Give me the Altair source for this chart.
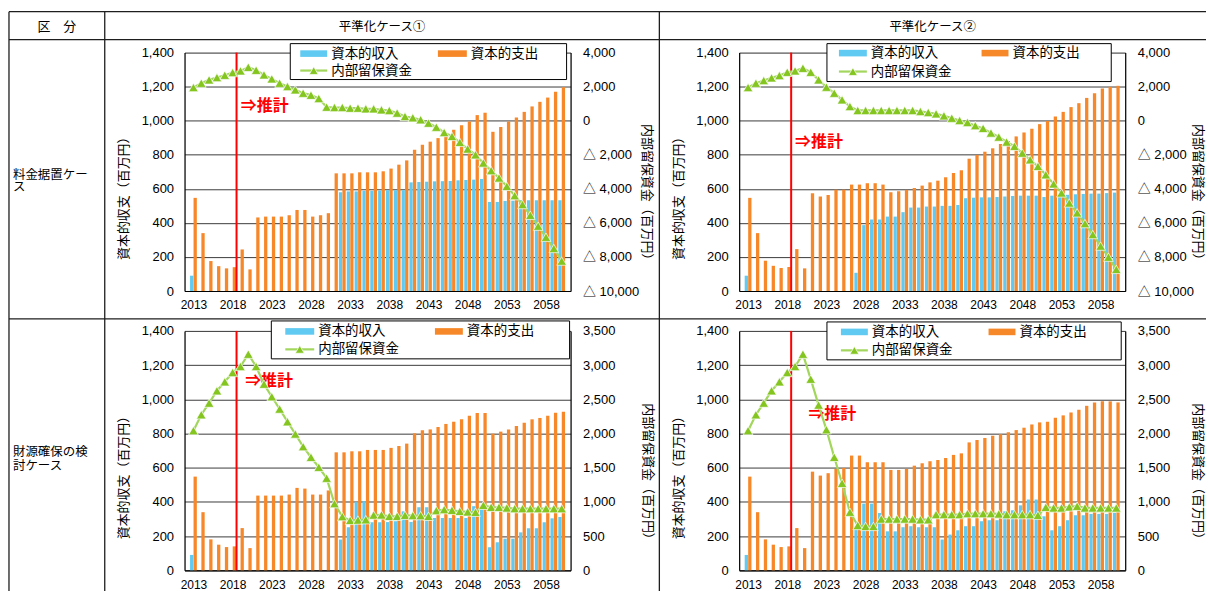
import altair as alt
import pandas as pd

YEARS = list(range(2013, 2061))
TICK_YEARS = [2013, 2018, 2023, 2028, 2033, 2038, 2043, 2048, 2053, 2058]

SERIES = ["資本的収入", "資本的支出", "内部留保資金"]
HEADERS = ["区　分", "平準化ケース①", "平準化ケース②"]
ROWS = ["料金据置ケー\nス", "財源確保の検\n討ケース"]
ESTIMATE = "⇒推計"
LEFT_TITLE = "資本的収支（百万円）"
RIGHT_TITLE = "内部留保資金（百万円）"

# --- 料金据置ケース / 平準化ケース① -------------------------------------
TL_INCOME = [90, 0, 0, 0, 0, 0, 0,
             0, 0, 0, 0, 0, 0, 0, 0, 0, 0,
             0, 0, 580, 585, 585, 588, 588, 590, 592, 592,
             592, 638, 640, 642, 644, 645, 646, 650, 652, 654,
             658, 523, 523, 529, 531, 533, 533, 533, 533, 533, 533]
TL_EXPENSE = [547, 340, 176, 146, 133, 140, 244,
              127, 432, 437, 437, 437, 445, 476, 476, 437, 445,
              457, 691, 691, 691, 697, 697, 697, 703, 719, 742,
              767, 830, 859, 877, 898, 924, 947, 974, 996, 1033,
              1047, 935, 963, 996, 1019, 1052, 1084, 1111, 1136, 1170, 1197]
TL_RESERVE = [1950, 2204, 2399, 2536, 2673, 2829, 2927,
              3141, 2966, 2692, 2458, 2204, 2009, 1814, 1618, 1501, 1306,
              798, 778, 778, 740, 740, 700, 700, 641, 600, 450,
              250, 176, 60, -140, -380, -690, -920, -1270, -1660, -2000,
              -2480, -2930, -3360, -3850, -4400, -4920, -5550, -6190, -6840, -7500, -8240]

# --- 料金据置ケース / 平準化ケース② -------------------------------------
TR_INCOME = [90, 0, 0, 0, 0, 0, 0,
             0, 0, 0, 0, 0, 0, 0, 107, 387, 420,
             420, 437, 437, 463, 490, 490, 496, 496, 500, 500,
             505, 545, 548, 550, 550, 552, 555, 558, 560, 560,
             560, 552, 560, 562, 565, 568, 570, 572, 572, 575, 578]
TR_EXPENSE = [547, 340, 178, 148, 135, 141, 246,
              133, 574, 555, 564, 595, 595, 625, 625, 633, 633,
              625, 580, 586, 594, 605, 619, 638, 648, 668, 693,
              709, 777, 799, 818, 838, 863, 881, 908, 931, 953,
              980, 998, 1025, 1052, 1080, 1103, 1134, 1162, 1189, 1199, 1205]
TR_RESERVE = [1950, 2204, 2360, 2517, 2653, 2848, 2927,
              3083, 2848, 2399, 1970, 1618, 1228, 837, 603, 603, 603,
              603, 603, 603, 603, 603, 544, 485, 407, 290, 150,
              15, -100, -290, -450, -720, -960, -1250, -1500, -1900, -2290,
              -2680, -3170, -3710, -4240, -4830, -5410, -6040, -6680, -7360, -8010, -8730]

# --- 財源確保の検討ケース / 平準化ケース① -------------------------------
BL_INCOME = [90, 0, 0, 0, 0, 0, 0,
             0, 0, 0, 0, 0, 0, 0, 0, 0, 0,
             0, 0, 180, 252, 398, 404, 281, 281, 282, 287,
             345, 283, 369, 369, 306, 306, 306, 306, 306, 375,
             365, 135, 164, 185, 185, 222, 246, 246, 281, 304, 312]
BL_EXPENSE = [548, 340, 181, 150, 136, 140, 247,
              130, 437, 437, 437, 437, 443, 482, 478, 443, 443,
              467, 690, 690, 696, 696, 704, 704, 704, 716, 727,
              741, 801, 819, 824, 838, 856, 869, 883, 904, 920,
              920, 799, 811, 824, 844, 863, 883, 891, 904, 922, 927]
BL_RESERVE = [2042, 2275, 2445, 2625, 2756, 2892, 2980,
              3160, 2980, 2722, 2538, 2358, 2173, 1993, 1808, 1653, 1507,
              1347, 975, 785, 730, 735, 740, 808, 810, 790, 790,
              805, 800, 800, 790, 873, 888, 878, 863, 854, 849,
              951, 922, 922, 912, 902, 902, 902, 902, 902, 902, 902]

# --- 財源確保の検討ケース / 平準化ケース② -------------------------------
BR_INCOME = [90, 0, 0, 0, 0, 0, 0,
             0, 0, 0, 0, 0, 0, 0, 240, 390, 390,
             335, 228, 228, 252, 258, 252, 252, 252, 180, 209,
             234, 258, 258, 287, 293, 293, 345, 351, 380, 414,
             414, 316, 234, 258, 293, 322, 322, 330, 330, 330, 336]
BR_EXPENSE = [548, 340, 181, 150, 136, 140, 247,
              130, 577, 554, 568, 593, 599, 671, 671, 632, 632,
              632, 587, 587, 593, 612, 626, 638, 645, 657, 675,
              684, 748, 762, 774, 787, 795, 807, 820, 834, 853,
              865, 869, 892, 906, 923, 939, 962, 982, 988, 988, 982]
BR_RESERVE = [2042, 2275, 2445, 2625, 2756, 2892, 2980,
              3160, 2795, 2416, 2056, 1653, 1273, 850, 656, 642, 642,
              750, 750, 750, 750, 750, 740, 740, 815, 815, 815,
              815, 829, 829, 829, 829, 824, 815, 815, 815, 815,
              805, 922, 912, 912, 927, 937, 912, 912, 912, 912, 912]

BLUE = "#60CAF2"
ORANGE = "#F7882A"
GREEN_LINE = "#A2D65C"
GREEN_MARK = "#84C520"
RED = "#FF0000"
GRID = "#3C3C3C"

JP_FONT = "Noto Sans CJK JP"
NUM_FONT = "Liberation Sans, Noto Sans CJK JP"

PLOT_W = 387
ONE = pd.DataFrame({"k": [0]})


def rect(x1, x2, y1, y2, fill, stroke=None, sw=1.0, opacity=1.0):
    kw = dict(fill=fill, opacity=opacity)
    if stroke:
        kw.update(stroke=stroke, strokeWidth=sw)
    return alt.Chart(ONE).mark_rect(**kw).encode(
        x=alt.value(x1), x2=alt.value(x2), y=alt.value(y1), y2=alt.value(y2))


def hline(x1, x2, y, color="#1E1E1E", sw=1.3):
    return alt.Chart(ONE).mark_rule(color=color, strokeWidth=sw).encode(
        x=alt.value(x1), x2=alt.value(x2), y=alt.value(y), y2=alt.value(y))


def vline(x, y1, y2, color="#1E1E1E", sw=1.3):
    return alt.Chart(ONE).mark_rule(color=color, strokeWidth=sw).encode(
        x=alt.value(x), x2=alt.value(x), y=alt.value(y1), y2=alt.value(y2))


def text(x, y, s, size=14, color="black", align="left", weight="normal", lh=None, font=JP_FONT):
    kw = dict(text=s, fontSize=size, color=color, align=align, baseline="middle",
              fontWeight=weight, font=font)
    if lh:
        kw.update(lineBreak="\n", lineHeight=lh)
    return alt.Chart(ONE).mark_text(**kw).encode(x=alt.value(x), y=alt.value(y))


def legend(bx1, bx2, by1, by2, sw_blue, sw_orange, row1, row2):
    sh = 3.3
    return [
        rect(bx1, bx2, by1, by2, "white", "black", 1.0),
        rect(sw_blue[0], sw_blue[1], row1 - sh, row1 + sh, BLUE),
        text(sw_blue[1] + 4, row1, SERIES[0], size=13.5),
        rect(sw_orange[0], sw_orange[1], row1 - sh, row1 + sh, ORANGE),
        text(sw_orange[1] + 4, row1, SERIES[1], size=13.5),
        hline(sw_blue[0], sw_blue[1], row2, GREEN_LINE, 2.2),
        alt.Chart(ONE).mark_point(shape="triangle-up", filled=True, size=80, fill=GREEN_MARK,
                                  stroke="white", strokeWidth=0.7, opacity=1).encode(
            x=alt.value((sw_blue[0] + sw_blue[1]) / 2), y=alt.value(row2)),
        text(sw_blue[1] + 4, row2, SERIES[2], size=13.5),
    ]


X_SCALE = alt.Scale(domain=[2012.5, 2060.5], nice=False, zero=False)
X_AXIS = alt.Axis(values=TICK_YEARS, labelExpr="'' + datum.value", title=None,
                  grid=False, ticks=False,
                  labelPadding=9, labelFontSize=12, labelFont=NUM_FONT,
                  labelColor="black", labelFlush=False, labelOverlap=False,
                  domainColor="black", domainWidth=1.2)
Y_SCALE = alt.Scale(domain=[0, 1400], nice=False, zero=True)
COMMA_LABEL = "format(datum.value, ',')"


def panel(income, expense, reserve, height, right_domain, right_values, right_label,
          est_x, est_y, title_y, right_title_x, deco):
    df = pd.DataFrame({"year": YEARS, "income": income, "expense": expense, "reserve": reserve})

    x = alt.X("year:Q", scale=X_SCALE, axis=X_AXIS)

    y_axis = alt.Axis(values=list(range(0, 1401, 200)), labelExpr=COMMA_LABEL, title=LEFT_TITLE,
                      grid=True, gridColor=GRID, gridWidth=1, ticks=False,
                      labelPadding=11, labelFontSize=13, labelFont=NUM_FONT,
                      labelColor="black", labelFlush=False, labelOverlap=False,
                      domainColor="black", domainWidth=1.2,
                      titleFont=JP_FONT, titleFontSize=13, titleFontWeight="normal",
                      titleColor="black", titleX=-61, titleY=title_y, titleAngle=270,
                      titleAlign="center", titleBaseline="middle", orient="left")

    r_scale = alt.Scale(domain=right_domain, nice=False, zero=False)
    r_axis = alt.Axis(values=right_values, labelExpr=right_label, title=RIGHT_TITLE,
                      grid=False, ticks=False, labelPadding=12, labelFontSize=13,
                      labelFont=NUM_FONT, labelColor="black", labelFlush=False,
                      labelOverlap=False, domainColor="black", domainWidth=1.2,
                      titleFont=JP_FONT, titleFontSize=13, titleFontWeight="normal",
                      titleColor="black", titleX=right_title_x, titleY=title_y, titleAngle=90,
                      titleAlign="center", titleBaseline="middle", orient="right")

    income_bars = alt.Chart(df).mark_bar(width=3.3, xOffset=-1.75, color=BLUE).encode(
        x=x, y=alt.Y("income:Q", scale=Y_SCALE, axis=y_axis))
    expense_bars = alt.Chart(df).mark_bar(width=3.3, xOffset=1.75, color=ORANGE).encode(
        x=x, y=alt.Y("expense:Q", scale=Y_SCALE, axis=y_axis))
    # boundary between actual results and projections
    divider = alt.Chart(ONE).mark_rule(color=RED, strokeWidth=2).encode(
        x=alt.XDatum(2018.5, type="quantitative", scale=X_SCALE, axis=X_AXIS))
    est = alt.Chart(ONE).mark_text(text=ESTIMATE, color=RED, fontSize=16, fontWeight="bold",
                                   align="left", baseline="middle", font=JP_FONT).encode(
        x=alt.XDatum(est_x, type="quantitative", scale=X_SCALE, axis=X_AXIS),
        y=alt.YDatum(est_y, type="quantitative", scale=Y_SCALE, axis=y_axis))
    left = alt.layer(income_bars, expense_bars, divider, est)

    line = alt.Chart(df).mark_line(color=GREEN_LINE, strokeWidth=2.2).encode(
        x=x, y=alt.Y("reserve:Q", scale=r_scale, axis=r_axis))
    pts = alt.Chart(df).mark_point(shape="triangle-up", filled=True, size=95, fill=GREEN_MARK,
                                   stroke="white", strokeWidth=0.7, opacity=1).encode(
        x=x, y=alt.Y("reserve:Q", scale=r_scale, axis=r_axis))
    right = alt.layer(line, pts)

    return alt.layer(left, right, *deco).resolve_scale(y="independent").properties(
        width=PLOT_W, height=height)


NEG_LABEL = "datum.value < 0 ? '△ ' + format(-datum.value, ',') : format(datum.value, ',')"
TOP_R = dict(right_domain=[-10000, 4000], right_values=list(range(-10000, 4001, 2000)),
             right_label=NEG_LABEL)
BOT_R = dict(right_domain=[0, 3500], right_values=list(range(0, 3501, 500)),
             right_label=COMMA_LABEL)

# table frame, headers and row labels (positions relative to the first plot area)
table = [
    rect(-184, -183, -51, -50, "white", opacity=0),
    hline(-176, 1024, -41),
    hline(-176, 1024, -13),
    hline(-176, 1024, 267),
    vline(-176, -41, 540),
    vline(-80, -41, 540),
    vline(476, -41, 540),
    text(-128, -26, HEADERS[0], size=13, align="center"),
    text(198, -26, HEADERS[1], size=12.5, align="center"),
    text(750, -26, HEADERS[2], size=12.5, align="center"),
    text(-172, 122.5, ROWS[0], size=12.5, lh=12.5),
    text(-172, 400.5, ROWS[1], size=12.5, lh=13.5),
]

tl = panel(TL_INCOME, TL_EXPENSE, TL_RESERVE, 239, est_x=2019.05, est_y=1084,
           title_y=142.5, right_title_x=76,
           deco=table + legend(106, 383, -9, 27, (116, 143), (254, 283), 1, 18), **TOP_R)
tr = panel(TR_INCOME, TR_EXPENSE, TR_RESERVE, 239, est_x=2019.0, est_y=873,
           title_y=142.5, right_title_x=72.5,
           deco=legend(88, 373, -9, 29, (100, 128), (243, 270), 0.5, 19), **TOP_R)
bl = panel(BL_INCOME, BL_EXPENSE, BL_RESERVE, 240, est_x=2019.6, est_y=1108,
           title_y=143.5, right_title_x=77,
           deco=legend(87, 386, -10, 28, (101, 130), (251, 279), 0.5, 18.5), **BOT_R)
br = panel(BR_INCOME, BR_EXPENSE, BR_RESERVE, 240, est_x=2020.7, est_y=916,
           title_y=143.5, right_title_x=72.5,
           deco=legend(88, 383, -9, 29, (102, 129), (250, 277), 1, 19.5), **BOT_R)

chart = alt.concat(tl, tr, bl, br, columns=2, spacing={"row": 40, "column": 169},
                   bounds="flush").properties(padding=0, background="white").configure_view(
    stroke=None).configure(font=JP_FONT)

chart.save("out.html", embed_options={"renderer": "svg", "actions": False})
